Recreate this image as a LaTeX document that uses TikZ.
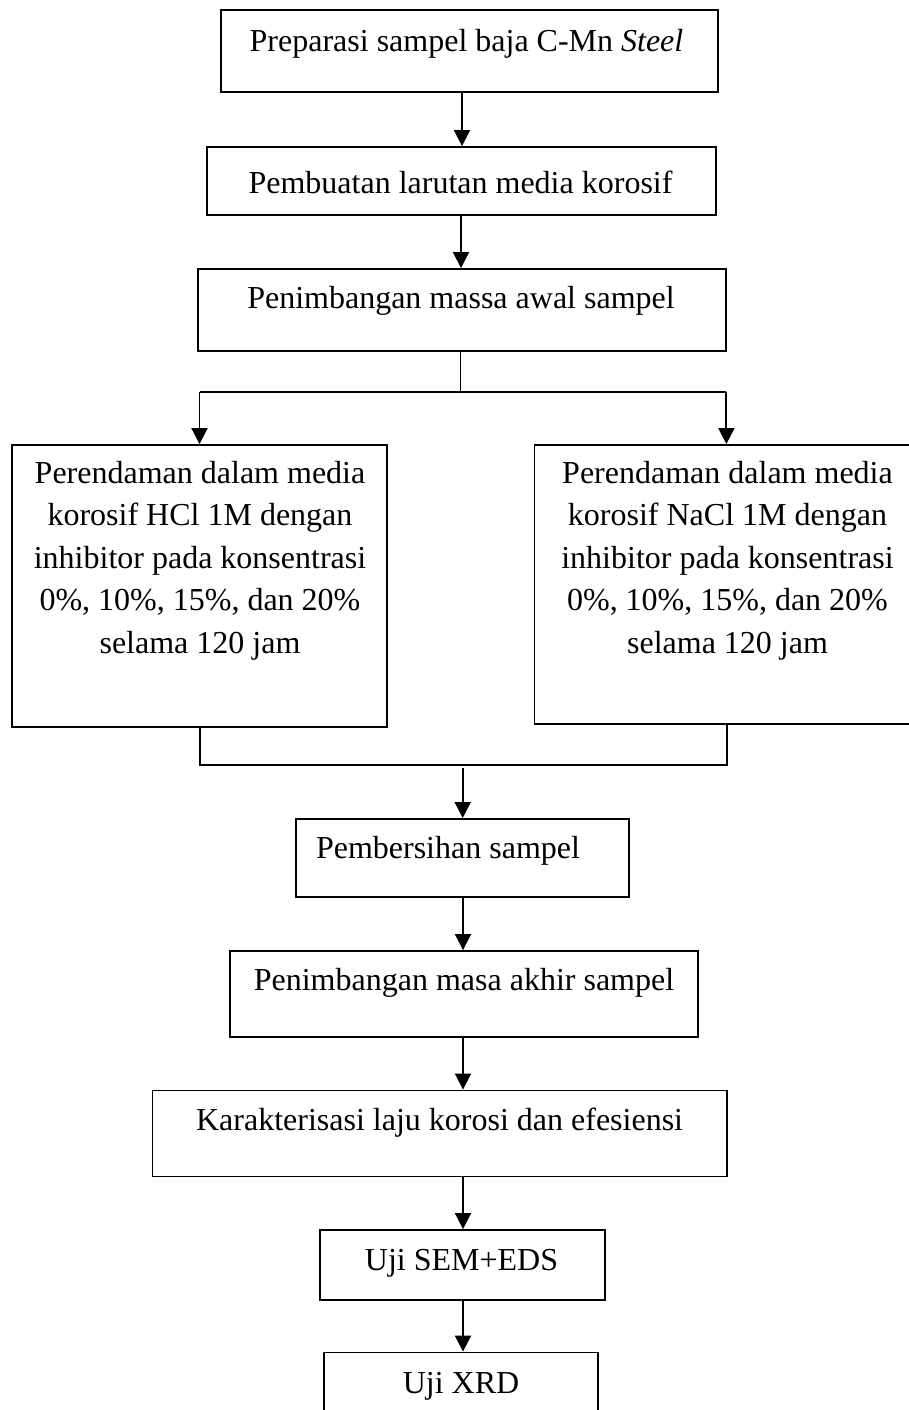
\documentclass[tikz,border=0pt]{standalone}
\usepackage{fontspec}
\setmainfont{Liberation Serif}
\usetikzlibrary{arrows.meta}
\tikzset{
  box/.style={draw=black, line width=1.9pt, rectangle, inner sep=0pt},
  txt/.style={inner sep=0pt, anchor=base, font=\fontsize{32}{42.5}\selectfont, align=center},
  ln/.style={line width=1.9pt},
  arr/.style={line width=1.9pt, -{Triangle[width=16pt,length=16pt]}},
}
\newcommand{\bx}[5]{\node[box, minimum width=#4-#2, minimum height=#5-#3] (#1) at ({(#2+#4)/2},{(#3+#5)/2}) {};}
\begin{document}
\begin{tikzpicture}[x=1pt,y=-1pt]
\useasboundingbox[fill=white] (0,0) rectangle (909,1410);
\begin{scope}
\clip (0,0) rectangle (909,1410);
% boxes
\bx{b1}{221}{10}{718}{92}
\bx{b2}{207}{147}{716}{215}
\bx{b3}{198}{269}{726}{351}
\bx{bl}{12}{445}{387}{727}
\bx{br}{534.5}{445}{915}{724}
\bx{b5}{296}{819}{629}{897}
\bx{b6}{230}{951}{698}{1037}
\bx{b7}{152.5}{1090.5}{726.7}{1176.5}
\bx{b8}{320}{1230}{605}{1300}
\bx{b9}{324}{1352.5}{598}{1425}
% texts
\node[txt] (t1) at (466.5,52) {Preparasi sampel baja C-Mn \textit{Steel}};
\node[txt] (t2) at (460.5,193) {Pembuatan larutan media korosif};
\node[txt] (t3) at (461,308) {Penimbangan massa awal sampel};
\node[txt] (tl) at (200,653) {Perendaman dalam media\\korosif HCl 1M dengan\\inhibitor pada konsentrasi\\0\%, 10\%, 15\%, dan 20\%\\selama 120 jam};
\node[txt] (tr) at (727.5,653) {Perendaman dalam media\\korosif NaCl 1M dengan\\inhibitor pada konsentrasi\\0\%, 10\%, 15\%, dan 20\%\\selama 120 jam};
\node[txt] (t5) at (448,858) {Pembersihan sampel};
\node[txt] (t6) at (464,990) {Penimbangan masa akhir sampel};
\node[txt] (t7) at (439.6,1130) {Karakterisasi laju korosi dan efesiensi};
\node[txt] (t8) at (461.5,1270) {Uji SEM+EDS};
\node[txt] (t9) at (461,1393) {Uji XRD};
% connector guide coordinates
\coordinate (a1) at (462,0);
\coordinate (a2) at (461,0);
\coordinate (a3) at (460.5,392);
\coordinate (aL) at (199.5,0);
\coordinate (aR) at (726.4,0);
\coordinate (m) at (0,765);
\coordinate (mc) at (462.7,768);
\coordinate (a5) at (463,0);
% connectors
\draw[arr] (b1.south -| a1) -- (b2.north -| a1);
\draw[arr] (b2.south -| a2) -- (b3.north -| a2);
\draw[ln] (b3.south -| a3) -- (a3);
\draw[ln] (a3 -| aL) -- (a3 -| aR);
\draw[arr] (a3 -| aL) -- (bl.north -| aL);
\draw[arr] (a3 -| aR) -- (br.north -| aR);
\draw[ln] (bl.south -| 200,0) -- (m -| 200,0) -- (m -| 726.8,0) -- (br.south -| 726.8,0);
\draw[arr] (mc) -- (b5.north -| mc);
\draw[arr] (b5.south -| a5) -- (b6.north -| a5);
\draw[arr] (b6.south -| a5) -- (b7.north -| a5);
\draw[arr] (b7.south -| a5) -- (b8.north -| a5);
\draw[arr] (b8.south -| a5) -- (b9.north -| a5);
\end{scope}
\end{tikzpicture}
\end{document}
